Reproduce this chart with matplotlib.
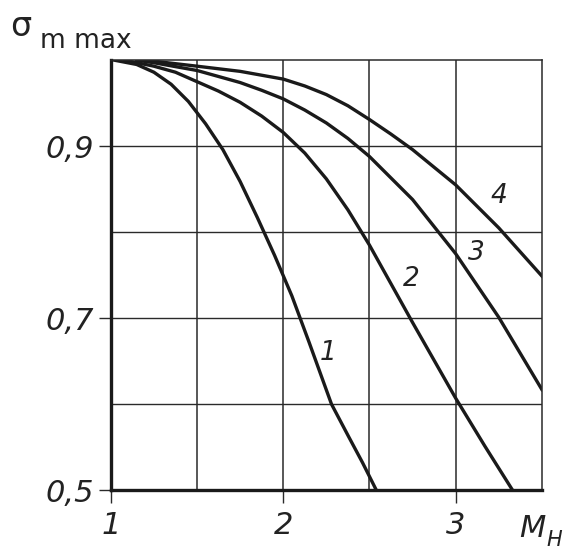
import numpy as np
import matplotlib.pyplot as plt

# curves (M_H vs sigma_m max)
x1 = [1.02, 1.15, 1.25, 1.35, 1.45, 1.55, 1.65, 1.75, 1.85, 1.95, 2.05, 2.15, 2.28, 2.38, 2.46, 2.54]
y1 = [1.0, 0.995, 0.986, 0.972, 0.952, 0.926, 0.896, 0.859, 0.817, 0.773, 0.726, 0.672, 0.6, 0.562, 0.532, 0.5]
x2 = [1.08, 1.25, 1.375, 1.5, 1.625, 1.75, 1.875, 2.0, 2.125, 2.25, 2.375, 2.5, 2.75, 3.0, 3.17, 3.33]
y2 = [1.0, 0.993, 0.986, 0.975, 0.964, 0.951, 0.935, 0.916, 0.892, 0.862, 0.826, 0.785, 0.695, 0.607, 0.551, 0.5]
x3 = [1.15, 1.25, 1.5, 1.75, 1.875, 2.0, 2.125, 2.25, 2.375, 2.5, 2.75, 3.0, 3.25, 3.5]
y3 = [1.0, 0.997, 0.988, 0.974, 0.965, 0.955, 0.942, 0.927, 0.909, 0.888, 0.838, 0.775, 0.701, 0.617]
x4 = [1.2, 1.5, 1.75, 2.0, 2.125, 2.25, 2.375, 2.5, 2.625, 2.75, 3.0, 3.25, 3.5]
y4 = [1.0, 0.993, 0.987, 0.978, 0.970, 0.960, 0.947, 0.931, 0.914, 0.896, 0.855, 0.805, 0.749]

curve_labels = ['1', '2', '3', '4']
label_pos = [(2.26, 0.66), (2.74, 0.745), (3.12, 0.776), (3.25, 0.842)]

xticks = [1, 2, 3]
yticks = [0.5, 0.7, 0.9]
ytick_labels = ['0,5', '0,7', '0,9']

ifont = dict(family='DejaVu Sans', style='italic')
ink = '#222222'

fig = plt.figure(figsize=(5.71, 5.52), dpi=100)
ax = fig.add_axes([0.194, 0.112, 0.755, 0.779])

for x, y in [(x1, y1), (x2, y2), (x3, y3), (x4, y4)]:
    ax.plot(x, y, color='#1a1a1a', lw=2.4, solid_joinstyle='round')

for lab, (lx, ly) in zip(curve_labels, label_pos):
    ax.text(lx, ly, lab, fontsize=19, color=ink, ha='center', va='center', **ifont)

for gx in [1.5, 2, 2.5, 3]:
    ax.axvline(gx, color='#2a2a2a', lw=1.1, zorder=0)
for gy in [0.6, 0.7, 0.8, 0.9]:
    ax.axhline(gy, color='#2a2a2a', lw=1.0, zorder=0)

ax.set_xlim(1, 3.5)
ax.set_ylim(0.5, 1.0)
ax.set_xticks(xticks)
ax.set_xticklabels([str(t) for t in xticks], fontsize=22, **ifont)
ax.set_yticks(yticks)
ax.set_yticklabels(ytick_labels, fontsize=22, **ifont)
ax.tick_params(axis='both', direction='out', length=9, width=1.0, color='#2a2a2a',
               labelcolor=ink)
ax.tick_params(axis='y', pad=3)
ax.tick_params(axis='x', pad=6)

for side in ['left', 'bottom']:
    ax.spines[side].set_linewidth(2.4)
    ax.spines[side].set_color('#1a1a1a')
for side in ['top', 'right']:
    ax.spines[side].set_linewidth(1.1)
    ax.spines[side].set_color('#2a2a2a')

fig.text(0.018, 0.952, 'σ', fontsize=24, color=ink, va='center')
fig.text(0.07, 0.925, 'm max', fontsize=19, color=ink, va='center')
fig.text(0.91, 0.042, 'M', fontsize=22, color=ink, va='center', **ifont)
fig.text(0.957, 0.022, 'H', fontsize=15, color=ink, va='center', **ifont)

fig.savefig('out.png', dpi=100, facecolor='white')
